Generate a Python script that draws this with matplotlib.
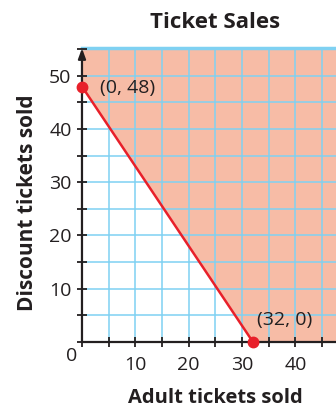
import numpy as np
import matplotlib
matplotlib.use("Agg")
import matplotlib.pyplot as plt
from matplotlib.ticker import MultipleLocator, FixedLocator

plt.rcParams['font.family'] = ['Open Sans', 'DejaVu Sans']

# Boundary line of the inequality: passes through the two intercepts
x_intercept = (32, 0)
y_intercept = (0, 48)
x_ticks = [10, 20, 30, 40]
y_ticks = [10, 20, 30, 40, 50]

xmax, ymax = 47.6, 55.3

fig = plt.figure(figsize=(3.36, 4.08), dpi=100)
ax = fig.add_axes([0.244, 0.1625, 0.756, 0.7206])
ax.set_xlim(0, xmax)
ax.set_ylim(0, ymax)

salmon = '#F7BCA6'
gridc = '#7FD1F2'
red = '#E8202A'
ink = '#231F20'

# shaded solution region (above the line)
slope = (x_intercept[1] - y_intercept[1]) / (x_intercept[0] - y_intercept[0])
xs = np.linspace(0, xmax, 400)
lower = np.clip(y_intercept[1] + slope * xs, 0, None)
ax.fill_between(xs, lower, ymax, color=salmon, lw=0, zorder=0)

# grid
for gx in np.arange(5, xmax, 5):
    ax.axvline(gx, color=gridc, lw=1.1, zorder=1)
for gy in np.arange(5, ymax, 5):
    ax.axhline(gy, color=gridc, lw=1.1, zorder=1)
ax.axhline(ymax, color=gridc, lw=2.5, zorder=1, clip_on=False)

# boundary line and intercept points
ax.plot([y_intercept[0], x_intercept[0]], [y_intercept[1], x_intercept[1]],
        color=red, lw=1.8, zorder=3, solid_capstyle='butt')
ax.plot([y_intercept[0], x_intercept[0]], [y_intercept[1], x_intercept[1]],
        'o', color=red, ms=7.5, zorder=5, clip_on=False)

ax.text(3.4, 47.8, f'({y_intercept[0]}, {y_intercept[1]})', fontsize=14,
        color=ink, ha='left', va='center')
ax.text(32.8, 4.1, f'({x_intercept[0]}, {x_intercept[1]})', fontsize=14,
        color=ink, ha='left', va='center')

# axes spines
for s in ['top', 'right', 'left']:
    ax.spines[s].set_visible(False)
ax.spines['bottom'].set_linewidth(1.6)
ax.spines['bottom'].set_color(ink)
ax.spines['bottom'].set_zorder(4)
ax.annotate('', xy=(0, 55.2), xytext=(0, 0),
            arrowprops=dict(arrowstyle='-|>,head_length=0.6,head_width=0.22',
                            color=ink, lw=1.6, shrinkA=0, shrinkB=0),
            zorder=4, annotation_clip=False)

ax.xaxis.set_major_locator(FixedLocator(x_ticks))
ax.xaxis.set_minor_locator(MultipleLocator(5))
ax.yaxis.set_major_locator(FixedLocator(y_ticks))
ax.yaxis.set_minor_locator(MultipleLocator(5))
ax.tick_params(which='both', direction='inout', length=7, width=1.3, color=ink)
ax.tick_params(axis='x', labelsize=14, pad=6.5, labelcolor=ink)
ax.tick_params(axis='y', labelsize=14, pad=4, labelcolor=ink)

ax.text(-0.9, -1.0, '0', fontsize=14, color=ink, ha='right', va='top')

fig.text(0.64, 0.946, 'Ticket Sales', fontsize=16, fontweight='bold',
         ha='center', va='center', color=ink)
fig.text(0.64, 0.0245, 'Adult tickets sold', fontsize=14.5, fontweight='bold',
         ha='center', va='center', color=ink)
fig.text(0.083, 0.502, 'Discount tickets sold', fontsize=15, fontweight='bold',
         ha='center', va='center', rotation=90, color=ink)

fig.savefig('out.png', dpi=100)
